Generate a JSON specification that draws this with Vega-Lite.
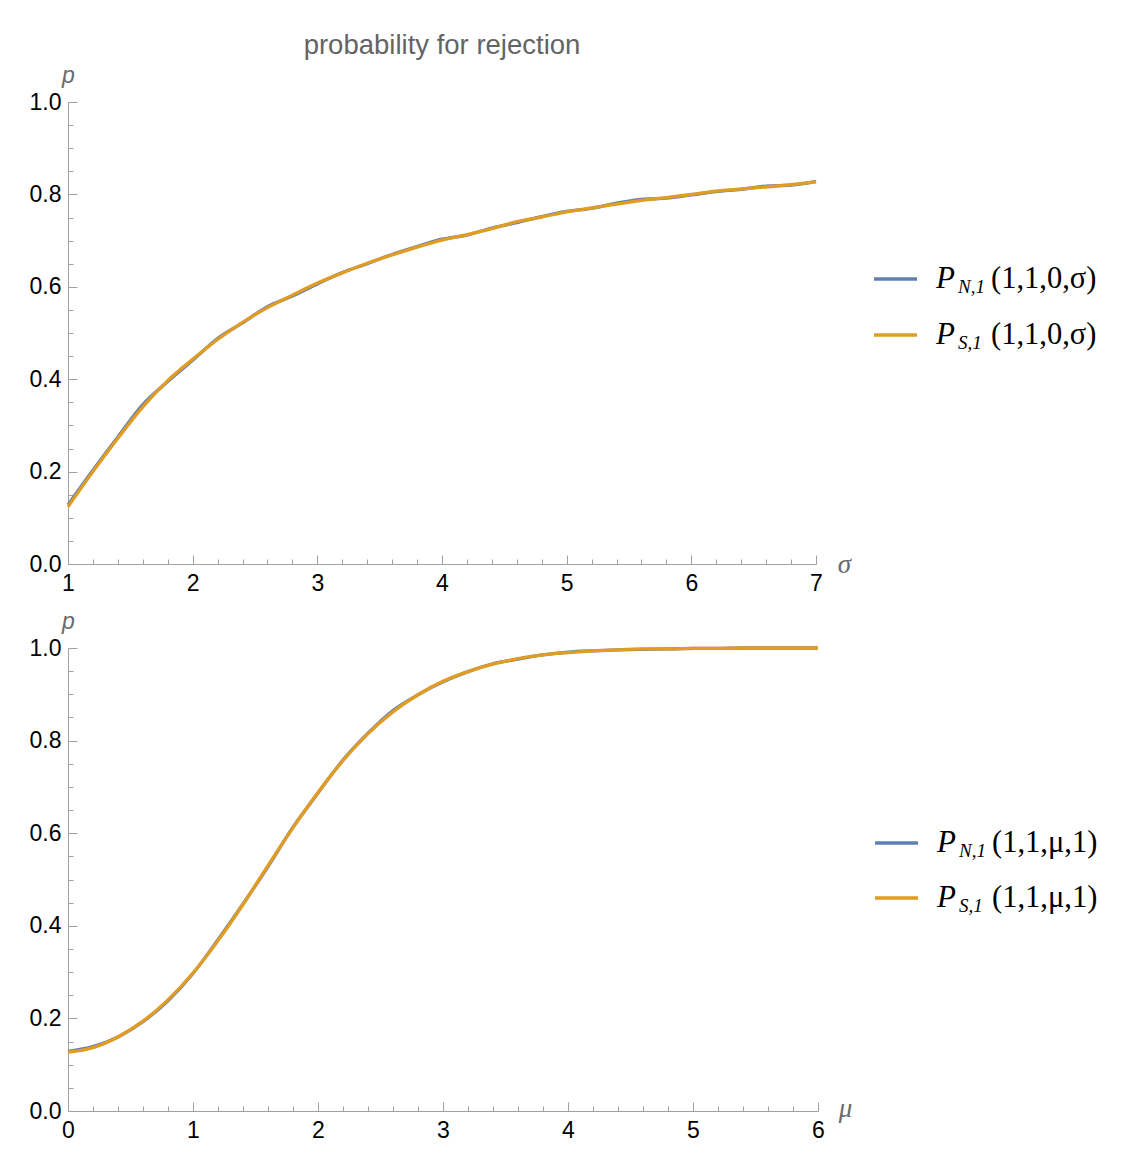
{
  "$schema": "https://vega.github.io/schema/vega-lite/v6.json",
  "background": "white",
  "padding": {"left": 29, "top": 31, "right": 0, "bottom": 0},
  "config": {
    "view": {"stroke": null},
    "font": "Liberation Sans",
    "axis": {
      "grid": false,
      "domainColor": "#a0a0a0",
      "tickColor": "#a0a0a0",
      "domainWidth": 1,
      "tickWidth": 1,
      "labelFont": "Liberation Sans",
      "labelFontSize": 23,
      "labelColor": "#000000",
      "labelFlush": false,
      "labelOverlap": false,
      "labelBound": false,
      "titleColor": "#6a6a6a",
      "titleFontWeight": "normal",
      "titleFontStyle": "italic",
      "titleAngle": 0
    }
  },
  "datasets": {
    "sigmaCurves": [
      {"sigma": 1.0, "N": 0.128, "S": 0.124},
      {"sigma": 1.2, "N": 0.203, "S": 0.200},
      {"sigma": 1.4, "N": 0.275, "S": 0.272},
      {"sigma": 1.6, "N": 0.345, "S": 0.340},
      {"sigma": 1.8, "N": 0.395, "S": 0.397},
      {"sigma": 2.0, "N": 0.441, "S": 0.443},
      {"sigma": 2.2, "N": 0.488, "S": 0.486},
      {"sigma": 2.4, "N": 0.522, "S": 0.523},
      {"sigma": 2.6, "N": 0.557, "S": 0.555},
      {"sigma": 2.8, "N": 0.580, "S": 0.582},
      {"sigma": 3.0, "N": 0.606, "S": 0.608},
      {"sigma": 3.2, "N": 0.631, "S": 0.630},
      {"sigma": 3.4, "N": 0.650, "S": 0.651},
      {"sigma": 3.6, "N": 0.670, "S": 0.669},
      {"sigma": 3.8, "N": 0.687, "S": 0.686},
      {"sigma": 4.0, "N": 0.703, "S": 0.701},
      {"sigma": 4.2, "N": 0.712, "S": 0.713},
      {"sigma": 4.4, "N": 0.727, "S": 0.726},
      {"sigma": 4.6, "N": 0.739, "S": 0.741},
      {"sigma": 4.8, "N": 0.752, "S": 0.751},
      {"sigma": 5.0, "N": 0.763, "S": 0.762},
      {"sigma": 5.2, "N": 0.770, "S": 0.771},
      {"sigma": 5.4, "N": 0.781, "S": 0.779},
      {"sigma": 5.6, "N": 0.789, "S": 0.787},
      {"sigma": 5.8, "N": 0.792, "S": 0.793},
      {"sigma": 6.0, "N": 0.799, "S": 0.800},
      {"sigma": 6.2, "N": 0.806, "S": 0.807},
      {"sigma": 6.4, "N": 0.811, "S": 0.812},
      {"sigma": 6.6, "N": 0.818, "S": 0.816},
      {"sigma": 6.8, "N": 0.820, "S": 0.821},
      {"sigma": 7.0, "N": 0.828, "S": 0.827}
    ],
    "muCurves": [
      {"mu": 0.0, "N": 0.129, "S": 0.127},
      {"mu": 0.2, "N": 0.139, "S": 0.137},
      {"mu": 0.4, "N": 0.160, "S": 0.160},
      {"mu": 0.6, "N": 0.193, "S": 0.194},
      {"mu": 0.8, "N": 0.238, "S": 0.240},
      {"mu": 1.0, "N": 0.297, "S": 0.298},
      {"mu": 1.2, "N": 0.370, "S": 0.368},
      {"mu": 1.4, "N": 0.447, "S": 0.446},
      {"mu": 1.6, "N": 0.528, "S": 0.530},
      {"mu": 1.8, "N": 0.613, "S": 0.612},
      {"mu": 2.0, "N": 0.687, "S": 0.688},
      {"mu": 2.2, "N": 0.758, "S": 0.757},
      {"mu": 2.4, "N": 0.816, "S": 0.815},
      {"mu": 2.6, "N": 0.865, "S": 0.862},
      {"mu": 2.8, "N": 0.899, "S": 0.899},
      {"mu": 3.0, "N": 0.927, "S": 0.928},
      {"mu": 3.2, "N": 0.949, "S": 0.949},
      {"mu": 3.4, "N": 0.966, "S": 0.965},
      {"mu": 3.6, "N": 0.976, "S": 0.977},
      {"mu": 3.8, "N": 0.985, "S": 0.985},
      {"mu": 4.0, "N": 0.991, "S": 0.990},
      {"mu": 4.2, "N": 0.994, "S": 0.994},
      {"mu": 4.4, "N": 0.996, "S": 0.996},
      {"mu": 4.6, "N": 0.997, "S": 0.998},
      {"mu": 4.8, "N": 0.998, "S": 0.998},
      {"mu": 5.0, "N": 0.999, "S": 0.999},
      {"mu": 5.2, "N": 0.999, "S": 0.999},
      {"mu": 5.4, "N": 1.000, "S": 1.000},
      {"mu": 5.6, "N": 1.000, "S": 1.000},
      {"mu": 5.8, "N": 1.000, "S": 1.000},
      {"mu": 6.0, "N": 1.000, "S": 1.000}
    ],
    "sigmaKey": [
      {"series": "N", "sym": "P", "sub": "N,1", "args": "(1,1,0,σ)"},
      {"series": "S", "sym": "P", "sub": "S,1", "args": "(1,1,0,σ)"}
    ],
    "muKey": [
      {"series": "N", "sym": "P", "sub": "N,1", "args": "(1,1,μ,1)"},
      {"series": "S", "sym": "P", "sub": "S,1", "args": "(1,1,μ,1)"}
    ]
  },
  "spacing": 11,
  "vconcat": [
    {
      "spacing": 21,
      "hconcat": [
        {
          "width": 748,
          "height": 462,
          "title": {
            "text": "probability for rejection",
            "anchor": "middle",
            "frame": "group",
            "font": "Liberation Sans",
            "fontSize": 27.5,
            "fontWeight": "normal",
            "color": "#646464",
            "offset": 5
          },
          "data": {"name": "sigmaCurves"},
          "transform": [{"fold": ["N", "S"], "as": ["series", "p"]}],
          "mark": {"type": "line", "strokeWidth": 3.3, "interpolate": "monotone"},
          "encoding": {
            "x": {
              "field": "sigma",
              "type": "quantitative",
              "scale": {"domain": [1, 7], "nice": false, "zero": false},
              "axis": {
                "values": [1, 1.2, 1.4, 1.6, 1.8, 2, 2.2, 2.4, 2.6, 2.8, 3, 3.2, 3.4, 3.6, 3.8, 4, 4.2, 4.4, 4.6, 4.8, 5, 5.2, 5.4, 5.6, 5.8, 6, 6.2, 6.4, 6.6, 6.8, 7],
                "format": ".0f",
                "labelExpr": "abs(datum.value - round(datum.value)) < 1e-6 ? datum.label : ''",
                "tickSize": {"condition": {"test": "abs(datum.value - round(datum.value)) < 1e-6", "value": -9}, "value": -5},
                "labelPadding": 17,
                "title": "σ",
                "titleFont": "Liberation Serif",
                "titleFontSize": 27,
                "titleX": 776,
                "titleY": 8,
                "titleAlign": "center",
                "titleBaseline": "alphabetic"
              }
            },
            "y": {
              "field": "p",
              "type": "quantitative",
              "scale": {"domain": [0, 1], "nice": false},
              "axis": {
                "values": [0, 0.05, 0.1, 0.15, 0.2, 0.25, 0.3, 0.35, 0.4, 0.45, 0.5, 0.55, 0.6, 0.65, 0.7, 0.75, 0.8, 0.85, 0.9, 0.95, 1],
                "format": ".1f",
                "labelExpr": "abs(datum.value * 5 - round(datum.value * 5)) < 1e-6 ? datum.label : ''",
                "tickSize": {"condition": {"test": "abs(datum.value * 5 - round(datum.value * 5)) < 1e-6", "value": -9}, "value": -5},
                "labelPadding": 16,
                "title": "p",
                "titleFont": "Liberation Sans",
                "titleFontSize": 23,
                "titleX": 0,
                "titleY": -20,
                "titleAlign": "center",
                "titleBaseline": "alphabetic"
              }
            },
            "color": {
              "field": "series",
              "type": "nominal",
              "scale": {"domain": ["N", "S"], "range": ["#5E81B5", "#E19C24"]},
              "legend": null
            }
          }
        },
        {
          "width": 225,
          "height": 462,
          "data": {"name": "sigmaKey"},
          "encoding": {
            "y": {
              "field": "series",
              "type": "nominal",
              "scale": {"type": "point", "domain": ["N", "S"], "range": [177, 233], "padding": 0},
              "axis": null
            }
          },
          "layer": [
            {
              "mark": {"type": "rule", "strokeWidth": 3.3},
              "encoding": {
                "x": {"value": 0},
                "x2": {"value": 43},
                "color": {"field": "series", "type": "nominal", "scale": {"domain": ["N", "S"], "range": ["#5E81B5", "#E19C24"]}, "legend": null}
              }
            },
            {
              "mark": {"type": "text", "align": "left", "baseline": "alphabetic", "dx": 62, "dy": 9, "font": "Liberation Serif", "fontStyle": "italic", "fontSize": 31, "color": "#000000"},
              "encoding": {"x": {"value": 0}, "text": {"field": "sym"}}
            },
            {
              "mark": {"type": "text", "align": "left", "baseline": "alphabetic", "dx": 84, "dy": 14, "font": "Liberation Serif", "fontStyle": "italic", "fontSize": 19, "color": "#000000"},
              "encoding": {"x": {"value": 0}, "text": {"field": "sub"}}
            },
            {
              "mark": {"type": "text", "align": "left", "baseline": "alphabetic", "dx": 117, "dy": 9, "font": "Liberation Serif", "fontSize": 30.5, "color": "#000000"},
              "encoding": {"x": {"value": 0}, "text": {"field": "args"}}
            }
          ]
        }
      ]
    },
    {
      "spacing": 21,
      "hconcat": [
        {
          "width": 750,
          "height": 463,
          "data": {"name": "muCurves"},
          "transform": [{"fold": ["N", "S"], "as": ["series", "p"]}],
          "mark": {"type": "line", "strokeWidth": 3.3, "interpolate": "monotone"},
          "encoding": {
            "x": {
              "field": "mu",
              "type": "quantitative",
              "scale": {"domain": [0, 6], "nice": false, "zero": false},
              "axis": {
                "values": [0, 0.2, 0.4, 0.6, 0.8, 1, 1.2, 1.4, 1.6, 1.8, 2, 2.2, 2.4, 2.6, 2.8, 3, 3.2, 3.4, 3.6, 3.8, 4, 4.2, 4.4, 4.6, 4.8, 5, 5.2, 5.4, 5.6, 5.8, 6],
                "format": ".0f",
                "labelExpr": "abs(datum.value - round(datum.value)) < 1e-6 ? datum.label : ''",
                "tickSize": {"condition": {"test": "abs(datum.value - round(datum.value)) < 1e-6", "value": -9}, "value": -5},
                "labelPadding": 17,
                "title": "μ",
                "titleFont": "Liberation Serif",
                "titleFontSize": 27,
                "titleX": 777,
                "titleY": 5,
                "titleAlign": "center",
                "titleBaseline": "alphabetic"
              }
            },
            "y": {
              "field": "p",
              "type": "quantitative",
              "scale": {"domain": [0, 1], "nice": false},
              "axis": {
                "values": [0, 0.05, 0.1, 0.15, 0.2, 0.25, 0.3, 0.35, 0.4, 0.45, 0.5, 0.55, 0.6, 0.65, 0.7, 0.75, 0.8, 0.85, 0.9, 0.95, 1],
                "format": ".1f",
                "labelExpr": "abs(datum.value * 5 - round(datum.value * 5)) < 1e-6 ? datum.label : ''",
                "tickSize": {"condition": {"test": "abs(datum.value * 5 - round(datum.value * 5)) < 1e-6", "value": -9}, "value": -5},
                "labelPadding": 16,
                "title": "p",
                "titleFont": "Liberation Sans",
                "titleFontSize": 23,
                "titleX": 0,
                "titleY": -20,
                "titleAlign": "center",
                "titleBaseline": "alphabetic"
              }
            },
            "color": {
              "field": "series",
              "type": "nominal",
              "scale": {"domain": ["N", "S"], "range": ["#5E81B5", "#E19C24"]},
              "legend": null
            }
          }
        },
        {
          "width": 225,
          "height": 463,
          "data": {"name": "muKey"},
          "encoding": {
            "y": {
              "field": "series",
              "type": "nominal",
              "scale": {"type": "point", "domain": ["N", "S"], "range": [195, 250], "padding": 0},
              "axis": null
            }
          },
          "layer": [
            {
              "mark": {"type": "rule", "strokeWidth": 3.3},
              "encoding": {
                "x": {"value": 0},
                "x2": {"value": 43},
                "color": {"field": "series", "type": "nominal", "scale": {"domain": ["N", "S"], "range": ["#5E81B5", "#E19C24"]}, "legend": null}
              }
            },
            {
              "mark": {"type": "text", "align": "left", "baseline": "alphabetic", "dx": 62, "dy": 9, "font": "Liberation Serif", "fontStyle": "italic", "fontSize": 31, "color": "#000000"},
              "encoding": {"x": {"value": 0}, "text": {"field": "sym"}}
            },
            {
              "mark": {"type": "text", "align": "left", "baseline": "alphabetic", "dx": 84, "dy": 14, "font": "Liberation Serif", "fontStyle": "italic", "fontSize": 19, "color": "#000000"},
              "encoding": {"x": {"value": 0}, "text": {"field": "sub"}}
            },
            {
              "mark": {"type": "text", "align": "left", "baseline": "alphabetic", "dx": 117, "dy": 9, "font": "Liberation Serif", "fontSize": 30.5, "color": "#000000"},
              "encoding": {"x": {"value": 0}, "text": {"field": "args"}}
            }
          ]
        }
      ]
    }
  ]
}
